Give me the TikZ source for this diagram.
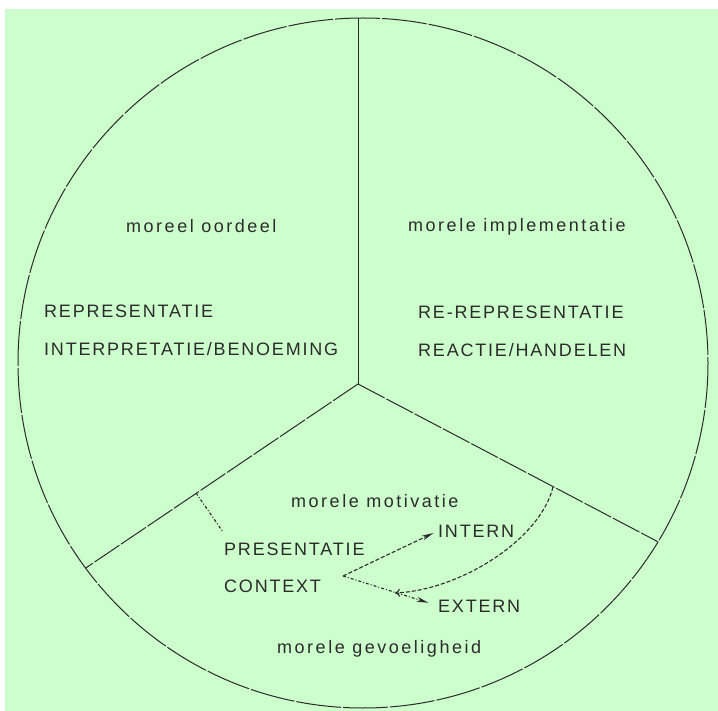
\documentclass[tikz,border=0pt]{standalone}
\usepackage{fontspec}
\newfontfamily\capsfont[LetterSpace=10]{Liberation Sans}
\newfontfamily\smallfont[LetterSpace=14]{Liberation Sans}
\usetikzlibrary{arrows.meta}
\definecolor{paper}{HTML}{CCFFCC}
\definecolor{ink}{HTML}{2B2B2B}
\tikzset{
  lbl/.style={anchor=base west, inner sep=0pt, text=ink, font=\capsfont\fontsize{18pt}{20pt}\selectfont},
  title/.style={lbl, font=\smallfont\fontsize{18pt}{20pt}\selectfont},
  rim/.style={draw=ink, line width=1pt, dash pattern=on 45pt off 2pt},
  spoke/.style={draw=ink, line width=1pt, dash pattern=on 30pt off 2pt},
  axis/.style={draw=ink, line width=1pt},
  tip/.style={-{Stealth[length=12pt,width=5pt]}},
  dashlink/.style={draw=ink, line width=1.1pt, dash pattern=on 4pt off 2pt},
  dotlink/.style={draw=ink, line width=1.1pt, dash pattern=on 3pt off 2pt on 1pt off 2pt},
}
\begin{document}
\begin{tikzpicture}[x=1pt,y=-1pt]
  \useasboundingbox (0,0) rectangle (718,711);
  \fill[white] (0,0) rectangle (718,711);
  \fill[paper] (5,9) rectangle (718,711);

  % outer circle and the three sectors
  \coordinate (c) at (363,363);
  \coordinate (hub) at (358,384);
  \coordinate (top) at (358,18);
  \coordinate (ll) at (85.6,568.1);
  \coordinate (lr) at (658,541.8);
  \draw[rim] (c) circle[radius=345];
  \draw[axis] (top) -- (hub);
  \draw[spoke] (hub) -- (ll);
  \draw[spoke] (hub) -- (lr);

  % sector labels
  \node[title] (oordeel) at (126,233) {moreel oordeel};
  \node[lbl] (repr) at (44,318) {REPRESENTATIE};
  \node[lbl] (interp) at (44,356) {INTERPRETATIE/BENOEMING};
  \node[title] (impl) at (408,232) {morele implementatie};
  \node[lbl] (rerepr) at (418,319) {RE-REPRESENTATIE};
  \node[lbl] (reactie) at (418,357) {REACTIE/HANDELEN};
  \node[title] (motiv) at (291,507) {morele motivatie};
  \node[lbl] (pres) at (224,555) {PRESENTATIE};
  \node[lbl] (context) at (224,592) {CONTEXT};
  \node[lbl] (intern) at (438,537) {INTERN};
  \node[lbl] (extern) at (438,612) {EXTERN};
  \node[title] (gevoel) at (277,653) {morele gevoeligheid};

  % inner links
  \coordinate (src) at (343,576);
  \coordinate (pfoot) at (196,493);
  \coordinate (ptop) at (223,532);
  \coordinate (arcA) at (553,487);
  \coordinate (arcB) at (395,593);
  \draw[dotlink] (pfoot) -- (ptop);
  \draw[dashlink, tip, shorten >=5pt] (src) -- (intern.west);
  \draw[dotlink, tip, shorten >=10pt] (src) -- (extern.west);
  \draw[dashlink, -{To[length=5pt,width=8pt]}] (arcA) .. controls (540,540) and (460,590) .. (arcB);
\end{tikzpicture}
\end{document}
